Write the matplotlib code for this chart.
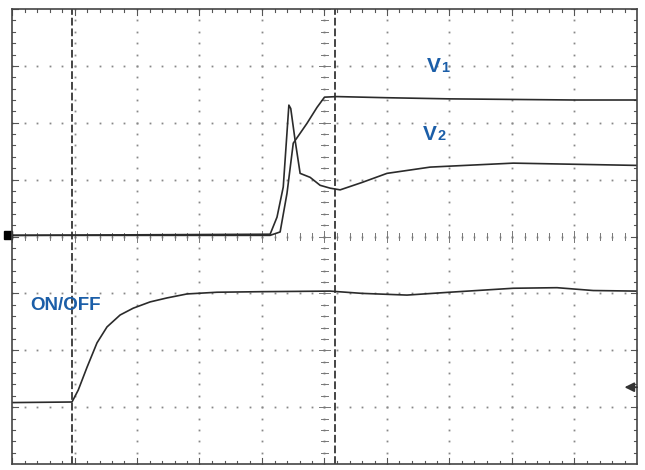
import matplotlib
matplotlib.use('Agg')
import matplotlib.pyplot as plt
import numpy as np

onoff_x = [0, 0.96, 1.06, 1.20, 1.36, 1.52, 1.73, 1.94, 2.21, 2.48, 2.80, 3.28, 4.0, 5.09, 5.6, 6.32, 7.0, 8.02, 8.72, 9.3, 10]
onoff_y = [1.08, 1.09, 1.30, 1.70, 2.13, 2.41, 2.62, 2.74, 2.85, 2.92, 2.99, 3.02, 3.03, 3.04, 3.0, 2.97, 3.02, 3.09, 3.1, 3.05, 3.04]

v1_x = [0, 4.13, 4.29, 4.4, 4.5, 4.72, 4.88, 5.0, 5.2, 6.0, 7.0, 8.0, 9.0, 10]
v1_y = [4.02, 4.02, 4.08, 4.76, 5.64, 5.99, 6.27, 6.45, 6.46, 6.44, 6.42, 6.41, 6.40, 6.40]

v2_x = [0, 4.13, 4.24, 4.34, 4.43, 4.46, 4.53, 4.61, 4.77, 4.93, 5.09, 5.25, 5.6, 6.0, 6.69, 7.06, 8.02, 9.0, 10]
v2_y = [4.02, 4.04, 4.34, 4.87, 6.31, 6.25, 5.69, 5.11, 5.04, 4.9, 4.85, 4.82, 4.95, 5.11, 5.22, 5.24, 5.29, 5.27, 5.25]

cursor_x = [0.96, 5.17]

label_names = ['V', 'V', 'ON/OFF']
label_subs = ['1', '2', '']
label_x = [6.64, 6.58, 0.29]
label_y = [6.89, 5.69, 2.71]

blue = '#1b5ea8'
ink = '#2b2b2b'

fig = plt.figure(figsize=(6.45, 4.70), dpi=100)
ax = fig.add_axes([12/645, 6/470, 625/645, 455/470])
ax.set_xlim(0, 10)
ax.set_ylim(0, 8)
ax.set_xticks([])
ax.set_yticks([])
for s in ax.spines.values():
    s.set_color('#444444')
    s.set_linewidth(1.2)

# dotted graticule
fine = np.arange(0, 10.01, 0.2)
fine_y = np.arange(0, 8.01, 0.2)
for gx in range(1, 10):
    ax.plot([gx] * len(fine_y), fine_y, ls='none', marker='s', ms=1.3, color='#888888', mew=0)
for gy in range(1, 8):
    ax.plot(fine, [gy] * len(fine), ls='none', marker='s', ms=1.3, color='#888888', mew=0)

# tick marks on centre axes and borders
for t in fine:
    big = 0.1 if abs(t - round(t)) < 1e-6 else 0.06
    ax.plot([t, t], [4 - big, 4 + big], color='#777777', lw=0.7)
    ax.plot([t, t], [8, 8 - big], color='#555555', lw=0.8)
    ax.plot([t, t], [0, big], color='#555555', lw=0.8)
for t in fine_y:
    big = 0.09 if abs(t - round(t)) < 1e-6 else 0.055
    ax.plot([5 - big, 5 + big], [t, t], color='#777777', lw=0.7)
    ax.plot([0, big], [t, t], color='#555555', lw=0.8)
    ax.plot([10, 10 - big], [t, t], color='#555555', lw=0.8)

# cursors
for cx in cursor_x:
    ax.axvline(cx, color='#444444', lw=1.4, dashes=(4, 1.5))

# traces
ax.plot(onoff_x, onoff_y, color=ink, lw=1.2)
ax.plot(v1_x, v1_y, color=ink, lw=1.2)
ax.plot(v2_x, v2_y, color=ink, lw=1.2)

# ground marker and trigger arrow
ax.plot([-0.07], [4.02], marker='s', ms=6, color='black', clip_on=False)
ax.annotate('', xy=(9.8, 1.35), xytext=(10.0, 1.35),
            arrowprops=dict(arrowstyle='-|>', color='#333333', lw=1.3,
                            mutation_scale=14, shrinkA=0, shrinkB=0))

for name, sub, lx, ly in zip(label_names, label_subs, label_x, label_y):
    size = 13.5 if sub == '' else 15
    ax.text(lx, ly, name, color=blue, fontsize=size, fontweight='bold',
            family='Liberation Sans', va='baseline', ha='left')
    if sub:
        ax.annotate(sub, xy=(lx, ly), xytext=(10, 0), textcoords='offset points',
                    color=blue, fontsize=10.5, fontweight='bold',
                    family='Liberation Sans', va='baseline', ha='left')

fig.savefig('out.png', dpi=100)
